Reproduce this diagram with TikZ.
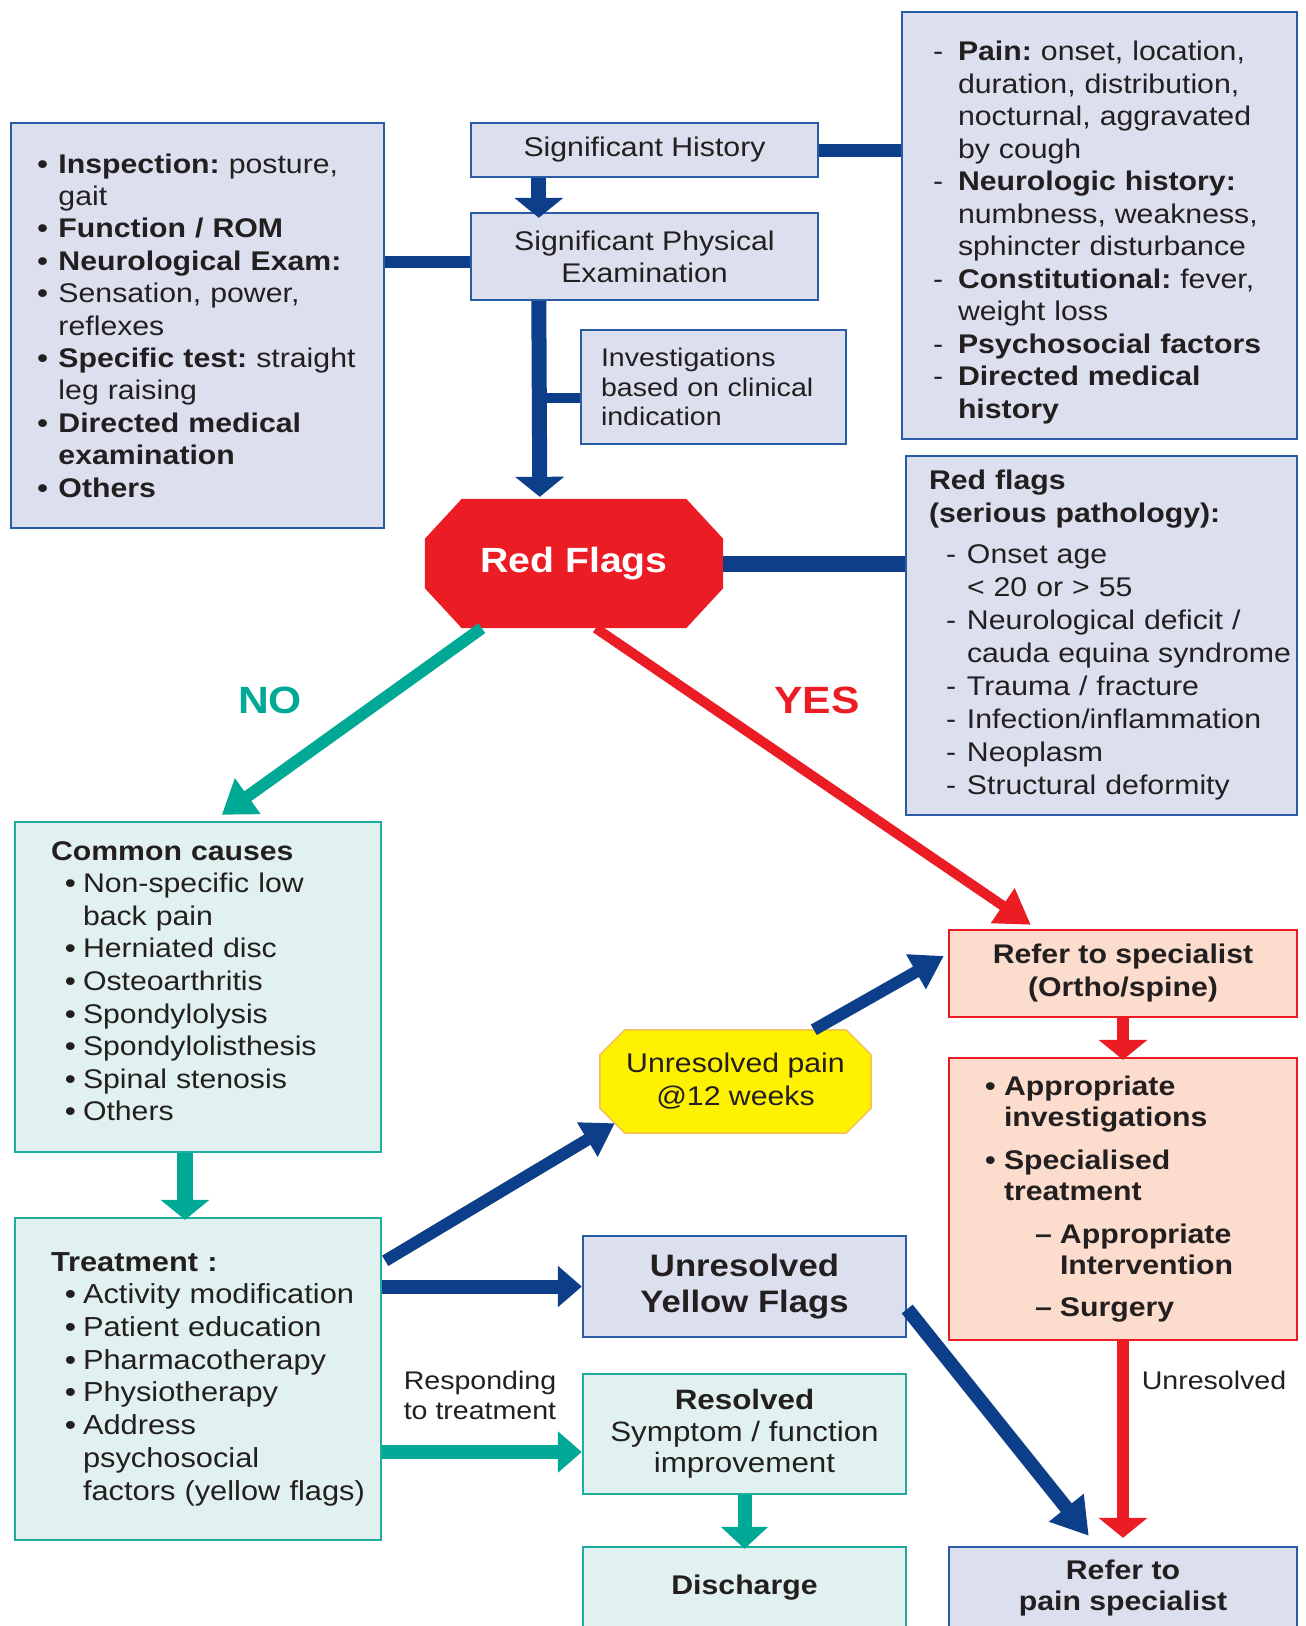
\documentclass[tikz,border=0pt]{standalone}
\usepackage{fontspec}
\setmainfont{Liberation Sans}[FakeStretch=1.12]
\usetikzlibrary{arrows.meta,calc,backgrounds}
\frenchspacing

\definecolor{navy}{HTML}{0C3E8A}
\definecolor{bbord}{HTML}{2A5CA6}
\definecolor{bfill}{HTML}{DCDFEE}
\definecolor{tealc}{HTML}{00A896}
\definecolor{tfill}{HTML}{E1F1EF}
\definecolor{tbord}{HTML}{1FAE9E}
\definecolor{redc}{HTML}{EC1C24}
\definecolor{pfill}{HTML}{FCDCCC}
\definecolor{yelc}{HTML}{FFF200}
\definecolor{ybord}{HTML}{F4BE5C}
\definecolor{txt}{HTML}{231F20}

\newcommand\fsz[2]{\fontsize{#1pt}{#2pt}\selectfont\frenchspacing}
\newcommand\oneline[1]{\mbox{#1}}
\newcommand\lead[2]{\makebox[#1][l]{#2}}
\newcommand\ind[1]{\hspace*{#1}}
\newcommand\bu{\textbf{\textbullet}}
\newcommand\octagon[4]{\path[#4] ($(#1.north west)+(#2,0)$) -- ($(#1.north east)+(-#2,0)$) -- ($(#1.north east)+(0,#3)$) -- ($(#1.south east)+(0,-#3)$) -- ($(#1.south east)+(-#2,0)$) -- ($(#1.south west)+(#2,0)$) -- ($(#1.south west)+(0,-#3)$) -- ($(#1.north west)+(0,#3)$) -- cycle;}

\tikzset{
  box/.style={draw, line width=2.4pt, inner sep=0pt, text=txt},
  bluebox/.style={box, draw=bbord, fill=bfill},
  tealbox/.style={box, draw=tbord, fill=tfill},
  pinkbox/.style={box, draw=redc, fill=pfill},
  conn/.style={draw=navy, line width=#1},
  arrowline/.style n args={4}{draw=#1, line width=#2pt, -{Triangle[width=#3pt,length=#4pt]}},
}

\begin{document}
\begin{tikzpicture}[x=1pt,y=-1pt]
\useasboundingbox (0,0) rectangle (1306,1626);
\begin{scope}[on background layer]
\fill[white] (0,0) rectangle (1306,1626);
\end{scope}
\clip (0,0) rectangle (1306,1626);

% ---------- top area ----------
\node[bluebox, minimum width=373pt, minimum height=405pt, text width=320pt, align=left, font=\fsz{27}{32.4}] (exam) at (197.5,325.5) {%
\oneline{\lead{21pt}{\bu}\textbf{Inspection:} posture,}\\
\oneline{\ind{21pt}gait}\\
\oneline{\lead{21pt}{\bu}\textbf{Function / ROM}}\\
\oneline{\lead{21pt}{\bu}\textbf{Neurological Exam:}}\\
\oneline{\lead{21pt}{\bu}Sensation, power,}\\
\oneline{\ind{21pt}reflexes}\\
\oneline{\lead{21pt}{\bu}\textbf{Specific test:} straight}\\
\oneline{\ind{21pt}leg raising}\\
\oneline{\lead{21pt}{\bu}\textbf{Directed medical}}\\
\oneline{\ind{21pt}\textbf{examination}}\\
\oneline{\lead{21pt}{\bu}\textbf{Others}}};

\node[bluebox, minimum width=347pt, minimum height=54pt, font=\fsz{27}{32}] (hist) at (644.5,150) {Significant History};
\node[bluebox, minimum width=347pt, minimum height=87pt, align=center, font=\fsz{27}{32}] (spe) at (644.5,256.5) {Significant Physical\\Examination};
\node[bluebox, minimum width=265pt, minimum height=114pt, text width=225pt, align=left, font=\fsz{25.5}{29.5}] (inv) at (713.5,387) {Investigations\\\oneline{based on clinical}\\indication};

\node[bluebox, minimum width=395pt, minimum height=427pt, text width=333pt, align=left, font=\fsz{27}{32.5}] (rhist) at (1099.5,225.5) {%
\oneline{\rule{0pt}{34pt}\lead{25pt}{-}\textbf{Pain:} onset, location,}\\
\oneline{\ind{25pt}duration, distribution,}\\
\oneline{\ind{25pt}nocturnal, aggravated}\\
\oneline{\ind{25pt}by cough}\\
\oneline{\lead{25pt}{-}\textbf{Neurologic history:}}\\
\oneline{\ind{25pt}numbness, weakness,}\\
\oneline{\ind{25pt}sphincter disturbance}\\
\oneline{\lead{25pt}{-}\textbf{Constitutional:} fever,}\\
\oneline{\ind{25pt}weight loss}\\
\oneline{\lead{25pt}{-}\textbf{Psychosocial factors}}\\
\oneline{\lead{25pt}{-}\textbf{Directed medical}}\\
\oneline{\ind{25pt}\textbf{history}}};

% ---------- red flags ----------
\node[minimum width=298pt, minimum height=129pt, inner sep=0pt, text=white, font=\fsz{35}{40}\bfseries] (rf) at (574,563.5) {Red Flags};
\begin{scope}[on background layer]
\octagon{rf}{37}{40}{fill=redc}
\end{scope}

\node[bluebox, minimum width=391pt, minimum height=359pt, text width=345pt, align=left, font=\fsz{27}{33}] (rfbox) at (1101.5,635.5) {%
\oneline{\textbf{Red flags}}\\
\oneline{\textbf{(serious pathology):}}\\[8pt]
\oneline{\ind{17pt}\lead{21pt}{-}Onset age}\\
\oneline{\ind{38pt}< 20 or > 55}\\
\oneline{\ind{17pt}\lead{21pt}{-}Neurological deficit /}\\
\oneline{\ind{38pt}cauda equina syndrome}\\
\oneline{\ind{17pt}\lead{21pt}{-}Trauma / fracture}\\
\oneline{\ind{17pt}\lead{21pt}{-}Infection/inflammation}\\
\oneline{\ind{17pt}\lead{21pt}{-}Neoplasm}\\
\oneline{\ind{17pt}\lead{21pt}{-}Structural deformity}};

% ---------- left column ----------
\node[tealbox, minimum width=366pt, minimum height=330pt, text width=294pt, align=left, font=\fsz{27}{32.6}] (cc) at (198,987) {%
\oneline{\textbf{Common causes}}\\
\oneline{\ind{14pt}\lead{18pt}{\bu}Non-specific low}\\
\oneline{\ind{32pt}back pain}\\
\oneline{\ind{14pt}\lead{18pt}{\bu}Herniated disc}\\
\oneline{\ind{14pt}\lead{18pt}{\bu}Osteoarthritis}\\
\oneline{\ind{14pt}\lead{18pt}{\bu}Spondylolysis}\\
\oneline{\ind{14pt}\lead{18pt}{\bu}Spondylolisthesis}\\
\oneline{\ind{14pt}\lead{18pt}{\bu}Spinal stenosis}\\
\oneline{\ind{14pt}\lead{18pt}{\bu}Others\rule[-12pt]{0pt}{12pt}}};

\node[tealbox, minimum width=366pt, minimum height=322pt, text width=294pt, align=left, font=\fsz{27.5}{32.7}] (treat) at (198,1379) {%
\oneline{\textbf{Treatment :}}\\
\oneline{\ind{14pt}\lead{18pt}{\bu}Activity modification}\\
\oneline{\ind{14pt}\lead{18pt}{\bu}Patient education}\\
\oneline{\ind{14pt}\lead{18pt}{\bu}Pharmacotherapy}\\
\oneline{\ind{14pt}\lead{18pt}{\bu}Physiotherapy}\\
\oneline{\ind{14pt}\lead{18pt}{\bu}Address}\\
\oneline{\ind{32pt}psychosocial}\\
\oneline{\ind{32pt}factors (yellow flags)}};

% ---------- middle / right ----------
\node[pinkbox, minimum width=348pt, minimum height=87pt, align=center, font=\fsz{27}{33}\bfseries] (refsp) at (1123,973.5) {Refer to specialist\\(Ortho/spine)};

\node[pinkbox, minimum width=348pt, minimum height=282pt, text width=276pt, align=left, font=\fsz{27}{31}\bfseries] (appr) at (1123,1199) {%
\oneline{\lead{19pt}{\textbullet}Appropriate}\\
\oneline{\ind{19pt}investigations}\\[12pt]
\oneline{\lead{19pt}{\textbullet}Specialised}\\
\oneline{\ind{19pt}treatment}\\[12pt]
\oneline{\ind{50pt}\lead{25pt}{\textendash}Appropriate}\\
\oneline{\ind{75pt}Intervention}\\[11pt]
\oneline{\ind{50pt}\lead{25pt}{\textendash}Surgery}};

\node[minimum width=271pt, minimum height=103pt, inner sep=0pt, align=center, text=txt, font=\fsz{27}{33}] (unp) at (735.5,1081.5) {Unresolved pain\\@12 weeks};
\begin{scope}[on background layer]
\octagon{unp}{25}{25}{fill=yelc, draw=ybord, line width=1.5pt}
\end{scope}

\node[bluebox, minimum width=323pt, minimum height=101pt, align=center, font=\fsz{31}{36.5}\bfseries] (uyf) at (744.5,1286.5) {Unresolved\\Yellow Flags};
\node[tealbox, minimum width=323pt, minimum height=120pt, align=center, font=\fsz{28}{31.5}] (res) at (744.5,1434) {\textbf{Resolved}\\Symptom / function\\improvement};
\node[tealbox, minimum width=323pt, minimum height=82pt, font=\fsz{27}{32}\bfseries] (dis) at (744.5,1588) {Discharge};
\node[bluebox, minimum width=348pt, minimum height=82pt, align=center, font=\fsz{27}{31}\bfseries] (painsp) at (1123,1588) {Refer to\\pain specialist};

% ---------- labels ----------
\node[font=\fsz{38}{40}\bfseries, text=tealc] (nolab) at (270,700) {NO};
\node[font=\fsz{38}{40}\bfseries, text=redc] (yeslab) at (817,700) {YES};
\node[font=\fsz{25.5}{30}, text=txt, align=center] (resplab) at (480,1395) {Responding\\to treatment};
\node[font=\fsz{25.5}{30}, text=txt] (unreslab) at (1214,1380) {Unresolved};

% ---------- connectors ----------
\draw[conn=13pt] (hist.east) -- (hist.east -| rhist.west);
\coordinate (exl) at ($(spe.west)+(0,5.5)$);
\draw[conn=12pt] (exl) -- (exl -| exam.east);
\draw[arrowline={navy}{15}{48}{20}] ($(hist.south west)+(69,0)$) -- ($(spe.north west)+(69,6)$);
\draw[arrowline={navy}{15}{48}{20}] ($(spe.south west)+(69,0)$) -- ($(rf.north west)+(115,-2)$);
\coordinate (shaft) at ($(spe.south west)+(69,97)$);
\draw[conn=10pt] (shaft) -- (shaft -| inv.west);
\draw[conn=16pt] (rf.east) -- (rf.east -| rfbox.west);

\draw[arrowline={tealc}{12}{42}{32}] ($(rf.south west)+(57,0)$) -- ($(cc.north west)+(208,-6)$);
\draw[arrowline={redc}{10}{40}{34}] ($(rf.south west)+(171,0)$) -- ($(refsp.north west)+(83,-4)$);
\draw[arrowline={tealc}{16}{48}{20}] ($(cc.south)+(-13,0)$) -- ($(treat.north)+(-13,3)$);
\draw[arrowline={navy}{12}{38}{32}] ($(treat.north east)+(3,44)$) -- ($(unp.south west)+(15,-10)$);
\draw[arrowline={navy}{12}{38}{32}] ($(unp.north west)+(214,0)$) -- ($(refsp.west)+(-4,-17.5)$);
\draw[arrowline={navy}{14}{40}{24}] (uyf.west -| treat.east) -- (uyf.west);
\coordinate (rsp) at ($(res.west)+(0,18)$);
\draw[arrowline={tealc}{14}{40}{24}] (rsp -| treat.east) -- (rsp);
\draw[arrowline={tealc}{14}{46}{22}] (res.south) -- ($(dis.north)+(0,3)$);
\draw[arrowline={redc}{12}{48}{20}] (refsp.south) -- ($(appr.north)+(0,3)$);
\draw[arrowline={redc}{12}{48}{20}] (appr.south) -- ($(painsp.north)+(0,-8)$);
\draw[arrowline={navy}{14}{42}{36}] ($(uyf.east)+(0,22.5)$) -- ($(painsp.north west)+(141,-10)$);
\end{tikzpicture}
\end{document}
